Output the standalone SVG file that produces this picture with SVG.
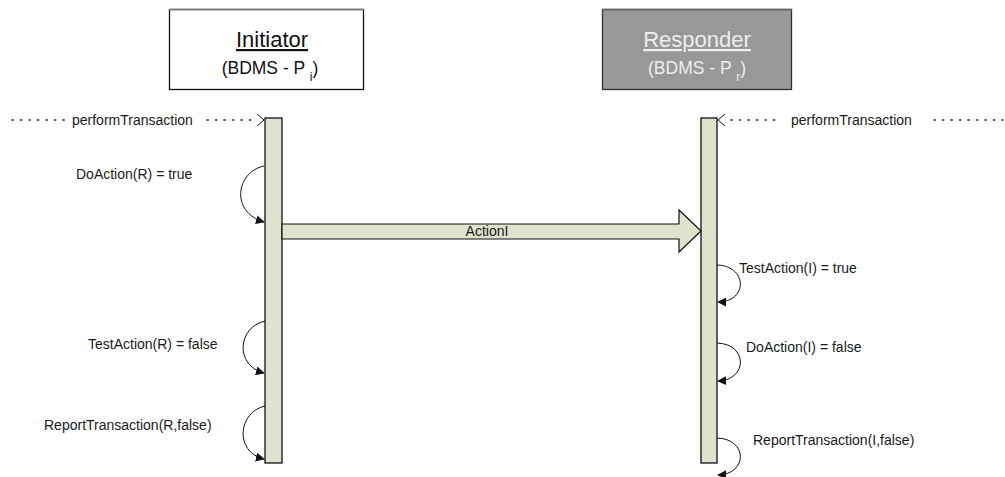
<svg xmlns="http://www.w3.org/2000/svg" width="1005" height="477" viewBox="0 0 1005 477">
  <style>
    .lbl { font-family: "Liberation Sans", Arial, sans-serif; font-size: 14px; fill: #1a1a1a; }
    .title { font-family: "Liberation Sans", Arial, sans-serif; font-size: 22px; text-anchor: middle; text-decoration: underline; }
    .sub { font-family: "Liberation Sans", Arial, sans-serif; font-size: 17.5px; text-anchor: middle; }
    .bar { fill: #dfe2cd; stroke: #111; stroke-width: 1.3; }
    .loop { fill: none; stroke: #111; stroke-width: 1; marker-end: url(#tri); }
    .dots { fill: none; stroke: #222; stroke-width: 1.6; stroke-dasharray: 1.2 7.3; stroke-linecap: round; }
    .open { fill: none; stroke: #111; stroke-width: 1; }
  </style>
  <defs>
    <marker id="tri" viewBox="0 0 10 10" refX="9" refY="5" markerWidth="9" markerHeight="9" markerUnits="userSpaceOnUse" orient="auto">
      <path d="M0,0 L10,5 L0,10 Z" fill="#111"/>
    </marker>
  </defs>
  <rect width="1005" height="477" fill="#fff"/>

  <g id="initiator">
    <rect x="169.5" y="9.5" width="194" height="80" fill="#fff" stroke="#111" stroke-width="1.3"/>
    <line x1="169" y1="9.5" x2="364" y2="9.5" stroke="#777" stroke-width="1.5"/>
    <text class="title" x="272" y="47" fill="#111">Initiator</text>
    <text class="sub" x="270" y="74" fill="#111">(BDMS - P <tspan font-size="12" dy="7">i</tspan><tspan dy="-7">)</tspan></text>
  </g>

  <g id="responder">
    <rect x="602.5" y="9.5" width="189" height="80" fill="#989898" stroke="#333" stroke-width="1.3"/>
    <line x1="602" y1="9.5" x2="792" y2="9.5" stroke="#666" stroke-width="1.5"/>
    <text class="title" x="697" y="47" fill="#eee">Responder</text>
    <text class="sub" x="697" y="74" fill="#eee">(BDMS - P <tspan font-size="12" dy="7">r</tspan><tspan dy="-7">)</tspan></text>
  </g>

  <g id="initiator-lifeline">
    <rect class="bar" x="265" y="118" width="17" height="345"/>
  </g>
  <g id="responder-lifeline">
    <rect class="bar" x="701" y="118" width="16" height="345"/>
  </g>

  <g id="connectors">
    <!-- incoming call on the initiator -->
    <line class="dots" x1="12" y1="120" x2="66" y2="120"/>
    <text class="lbl" x="72" y="125">performTransaction</text>
    <line class="dots" x1="207" y1="120" x2="258" y2="120"/>
    <polyline class="open" points="257,114 264,120 257,126"/>

    <!-- incoming call on the responder -->
    <polyline class="open" points="725,114 718,120 725,126"/>
    <line class="dots" x1="731" y1="120" x2="780" y2="120"/>
    <text class="lbl" x="791" y="125">performTransaction</text>
    <line class="dots" x1="934" y1="120" x2="1003" y2="120"/>

    <!-- message from initiator to responder -->
    <polygon points="282,224 679,224 679,210 701,231 679,252 679,239 282,239" fill="#dfe2cd" stroke="#111" stroke-width="1.2"/>
    <text class="lbl" x="487" y="236" text-anchor="middle">ActionI</text>

    <!-- initiator self-calls -->
    <path class="loop" d="M264,166 C236,172 230,212 264,222"/>
    <text class="lbl" x="76" y="179">DoAction(R) = true</text>
    <path class="loop" d="M265,321 C238,327 234,365 264,373"/>
    <text class="lbl" x="88" y="349">TestAction(R) = false</text>
    <path class="loop" d="M265,406 C238,412 234,452 264,459"/>
    <text class="lbl" x="44" y="430">ReportTransaction(R,false)</text>

    <!-- responder self-calls -->
    <path class="loop" d="M717,265 C748,266 748,302 718,302"/>
    <text class="lbl" x="739" y="273">TestAction(I) = true</text>
    <path class="loop" d="M717,343 C748,344 748,380 718,381"/>
    <text class="lbl" x="746" y="352">DoAction(I) = false</text>
    <path class="loop" d="M717,438 C748,439 748,474 718,475"/>
    <text class="lbl" x="753" y="445">ReportTransaction(I,false)</text>
  </g>
</svg>
